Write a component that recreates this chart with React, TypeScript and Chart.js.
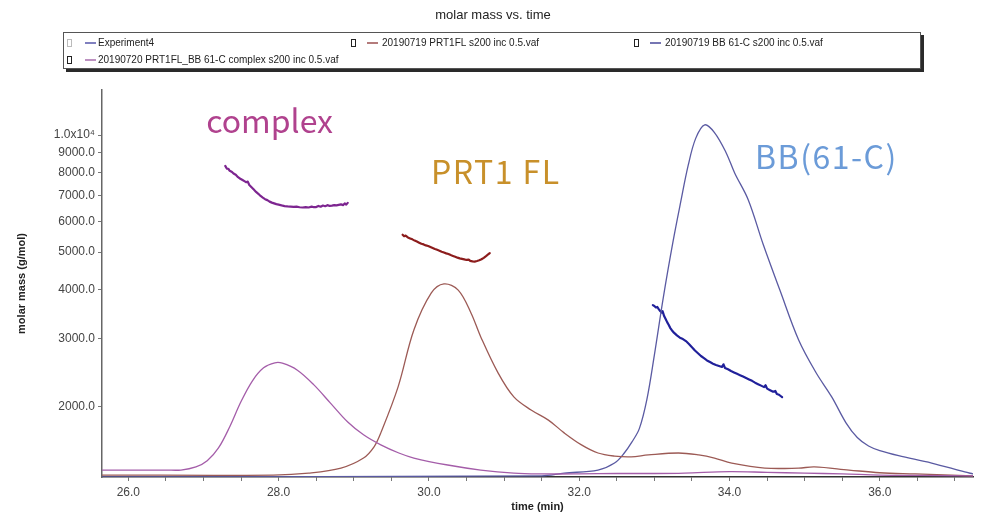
import React, { useEffect, useRef } from 'react';
import { Chart, registerables } from 'chart.js';

Chart.register(...registerables);

const chartTitle = 'molar mass vs. time';
const xTitle = 'time (min)';
const yTitle = 'molar mass (g/mol)';

const xMin = 25.65;
const xMax = 37.24;
const yMin = 1318;
const yMax = 13060;
const xTickValues = [26, 26.5, 27, 27.5, 28, 28.5, 29, 29.5, 30, 30.5, 31, 31.5, 32, 32.5, 33, 33.5, 34, 34.5, 35, 35.5, 36, 36.5, 37];
const yTickValues = [2000, 3000, 4000, 5000, 6000, 7000, 8000, 9000, 10000];

const legendLabels = [
  'Experiment4',
  '20190719 PRT1FL s200 inc 0.5.vaf',
  '20190719 BB 61-C s200 inc 0.5.vaf',
  '20190720 PRT1FL_BB 61-C complex s200 inc 0.5.vaf',
];
const legendColors = ['#3c3c9c', '#8c3434', '#2c2c8a', '#9a55a0'];

// annotation labels (time, molar mass)
const noteTexts = ['complex', 'PRT1 FL', 'BB(61-C)'];
const noteTimes = [27.88, 30.89, 35.29];
const noteMasses = [10119, 7480, 8175];
const noteColors = ['#b0428e', '#c8902a', '#6b9bd8'];

// chromatogram signals (relative, hidden axis)
const complexChromTime = [25.65, 26.5, 26.7, 26.9, 27.05, 27.2, 27.35, 27.5, 27.65, 27.8, 27.95, 28.05, 28.25, 28.47, 28.69, 28.92, 29.13, 29.36, 29.6, 29.8, 30.25, 30.69, 31.13, 31.5, 32.0, 32.5, 33.0, 33.4, 34.0, 34.5, 35.0, 35.5, 36.0, 36.5, 37.24];
const complexChromSignal = [1.8, 1.8, 1.8, 2.6, 4.2, 7.5, 13.0, 19.5, 24.8, 28.2, 29.5, 29.4, 27.6, 23.8, 19.1, 14.2, 10.9, 8.3, 6.2, 4.9, 3.1, 1.8, 1.0, 0.8, 0.8, 0.9, 0.9, 1.0, 1.4, 1.2, 1.0, 0.8, 0.5, 0.4, 0.3];

const prtChromTime = [25.65, 27.93, 28.4, 28.83, 29.13, 29.27, 29.36, 29.59, 29.8, 30.03, 30.2, 30.39, 30.56, 30.69, 30.92, 31.13, 31.36, 31.59, 31.8, 32.03, 32.25, 32.47, 32.69, 32.92, 33.32, 33.59, 33.8, 34.03, 34.47, 34.92, 35.13, 35.59, 36.0, 36.47, 37.24];
const prtChromSignal = [0.5, 0.5, 1.0, 2.3, 4.9, 7.8, 11.4, 23.3, 38.0, 47.5, 49.9, 48.3, 42.4, 36.2, 26.9, 20.7, 17.3, 14.7, 11.4, 8.3, 6.2, 5.4, 5.2, 5.7, 6.2, 5.7, 4.9, 3.6, 2.3, 2.3, 2.6, 1.8, 1.1, 0.8, 0.3];

const bbChromTime = [25.65, 31.5, 31.8, 32.25, 32.47, 32.6, 32.7, 32.8, 32.9, 33.0, 33.12, 33.25, 33.35, 33.45, 33.55, 33.67, 33.8, 33.95, 34.07, 34.25, 34.45, 34.67, 34.92, 35.15, 35.36, 35.55, 35.7, 35.85, 36.0, 36.25, 36.69, 37.13, 37.24];
const bbChromSignal = [0, 0.3, 1.0, 1.8, 3.6, 6.2, 9.0, 12.5, 20.0, 31.5, 46.5, 61.0, 71.0, 80.5, 87.5, 91.0, 89.0, 84.0, 78.5, 71.6, 60.0, 48.3, 35.4, 27.0, 20.7, 14.0, 10.2, 8.0, 6.8, 5.5, 3.6, 1.3, 0.8];

// molar mass traces
const complexMassTime = [27.29, 27.31, 27.33, 27.35, 27.38, 27.40, 27.43, 27.46, 27.49, 27.52, 27.55, 27.57, 27.59, 27.61, 27.64, 27.67, 27.70, 27.73, 27.76, 27.79, 27.82, 27.85, 27.88, 27.91, 27.94, 27.97, 28.00, 28.04, 28.08, 28.12, 28.16, 28.20, 28.24, 28.28, 28.32, 28.36, 28.40, 28.44, 28.47, 28.50, 28.53, 28.56, 28.59, 28.62, 28.65, 28.68, 28.71, 28.74, 28.77, 28.80, 28.83, 28.86, 28.88, 28.90, 28.92];
const complexMass = [8330, 8200, 8190, 8090, 8030, 7960, 7900, 7790, 7720, 7660, 7600, 7560, 7590, 7440, 7340, 7240, 7140, 7060, 6970, 6900, 6840, 6800, 6740, 6700, 6670, 6640, 6620, 6590, 6565, 6550, 6540, 6530, 6540, 6520, 6510, 6525, 6510, 6545, 6520, 6525, 6570, 6540, 6585, 6560, 6600, 6570, 6580, 6600, 6590, 6610, 6630, 6600, 6670, 6620, 6690];

const prtMassTime = [29.65, 29.67, 29.69, 29.72, 29.75, 29.78, 29.81, 29.84, 29.87, 29.90, 29.93, 29.96, 29.99, 30.02, 30.05, 30.08, 30.11, 30.14, 30.17, 30.20, 30.23, 30.26, 30.29, 30.32, 30.35, 30.38, 30.41, 30.44, 30.47, 30.50, 30.53, 30.55, 30.58, 30.61, 30.64, 30.67, 30.70, 30.73, 30.76, 30.79, 30.81];
const prtMass = [5540, 5490, 5510, 5450, 5420, 5390, 5350, 5320, 5285, 5250, 5230, 5200, 5180, 5150, 5120, 5090, 5065, 5040, 5010, 4985, 4960, 4940, 4910, 4885, 4860, 4835, 4815, 4800, 4785, 4770, 4780, 4745, 4730, 4725, 4740, 4760, 4790, 4830, 4880, 4935, 4965];

const bbMassTime = [32.98, 33.00, 33.02, 33.04, 33.06, 33.08, 33.10, 33.11, 33.13, 33.15, 33.17, 33.19, 33.21, 33.23, 33.26, 33.30, 33.34, 33.38, 33.42, 33.46, 33.50, 33.54, 33.58, 33.62, 33.66, 33.70, 33.74, 33.78, 33.82, 33.86, 33.90, 33.92, 33.94, 33.98, 34.02, 34.06, 34.10, 34.14, 34.18, 34.22, 34.26, 34.30, 34.34, 34.38, 34.42, 34.46, 34.48, 34.50, 34.54, 34.58, 34.61, 34.63, 34.66, 34.68, 34.70];
const bbMass = [3650, 3630, 3600, 3610, 3560, 3520, 3490, 3520, 3420, 3360, 3300, 3250, 3190, 3150, 3100, 3050, 3010, 2985, 2950, 2900, 2845, 2790, 2745, 2700, 2665, 2630, 2605, 2580, 2560, 2545, 2530, 2570, 2515, 2495, 2470, 2450, 2430, 2410, 2390, 2370, 2350, 2330, 2305, 2285, 2265, 2245, 2270, 2225, 2205, 2185, 2195, 2155, 2145, 2130, 2115];

const zip = (xs: number[], ys: number[]) => xs.map((x, i) => ({ x, y: ys[i] }));

const FONT = '"Liberation Sans", Arial, sans-serif';

const overlayPlugin = {
  id: 'overlay',
  afterDatasetsDraw(chart: any) {
    const ctx = chart.ctx;
    const xs = chart.scales.x;
    const ys = chart.scales.y;
    ctx.save();
    ctx.font = '32px "Noto Sans CJK KR", "Noto Sans", sans-serif';
    ctx.textAlign = 'center';
    ctx.textBaseline = 'alphabetic';
    noteTexts.forEach((t, i) => {
      ctx.fillStyle = noteColors[i];
      (ctx as any).letterSpacing = i === 0 ? '0px' : '1.5px';
      ctx.fillText(t, xs.getPixelForValue(noteTimes[i]), ys.getPixelForValue(noteMasses[i]));
    });
    (ctx as any).letterSpacing = '0px';
    ctx.restore();
  },
  afterDraw(chart: any) {
    const ctx = chart.ctx;
    ctx.save();
    // title
    ctx.font = '13px ' + FONT;
    ctx.fillStyle = '#222';
    ctx.textAlign = 'center';
    ctx.textBaseline = 'middle';
    ctx.fillText(chartTitle, 493, 15);
    // legend box with shadow
    ctx.fillStyle = '#2a2a2a';
    ctx.fillRect(66, 35, 858, 37);
    ctx.fillStyle = '#fff';
    ctx.fillRect(63, 32, 858, 37);
    ctx.strokeStyle = '#555';
    ctx.lineWidth = 1;
    ctx.strokeRect(63.5, 32.5, 857, 36);
    const slots = [
      { bx: 67, lx: 85, tx: 98, y: 43 },
      { bx: 351, lx: 367, tx: 382, y: 43 },
      { bx: 634, lx: 650, tx: 665, y: 43 },
      { bx: 67, lx: 85, tx: 98, y: 60 },
    ];
    ctx.font = '10px ' + FONT;
    ctx.textAlign = 'left';
    ctx.textBaseline = 'middle';
    legendLabels.forEach((label, i) => {
      const s = slots[i];
      ctx.strokeStyle = i === 0 ? '#bbb' : '#222';
      ctx.lineWidth = 1;
      ctx.strokeRect(s.bx + 0.5, s.y - 3.5, 4, 7);
      ctx.strokeStyle = legendColors[i];
      ctx.lineWidth = 1.3;
      ctx.beginPath();
      ctx.moveTo(s.lx, s.y);
      ctx.lineTo(s.lx + 11, s.y);
      ctx.stroke();
      ctx.fillStyle = '#222';
      ctx.fillText(label, s.tx, s.y);
    });
    ctx.restore();
  },
};

export default function App() {
  const ref = useRef<HTMLCanvasElement | null>(null);
  useEffect(() => {
    if (!ref.current) return;
    const line = (data: any[], color: string, width: number, axis: string, smooth: boolean) => ({
      data,
      yAxisID: axis,
      borderColor: color,
      backgroundColor: color,
      borderWidth: width,
      borderJoinStyle: 'round',
      borderCapStyle: 'round',
      pointRadius: 0,
      fill: false,
      tension: smooth ? 0.35 : 0,
      cubicInterpolationMode: 'default',
    });
    const chart = new Chart(ref.current, {
      type: 'line',
      data: {
        datasets: [
          line(zip(complexChromTime, complexChromSignal), '#a45da9', 1.3, 'y2', true),
          line(zip(prtChromTime, prtChromSignal), '#9c5a55', 1.3, 'y2', true),
          line(zip(bbChromTime, bbChromSignal), '#5a5aa2', 1.3, 'y2', true),
          line(zip(complexMassTime, complexMass), '#7d2590', 2.2, 'y', false),
          line(zip(prtMassTime, prtMass), '#8c1c1c', 2.2, 'y', false),
          line(zip(bbMassTime, bbMass), '#20209a', 2.2, 'y', false),
        ] as any,
      },
      options: {
        responsive: false,
        animation: false,
        devicePixelRatio: 1,
        layout: { padding: { top: 90, right: 13, left: 0, bottom: 0 } },
        plugins: {
          legend: { display: false },
          title: { display: false },
          tooltip: { enabled: false },
        },
        scales: {
          x: {
            type: 'linear',
            min: xMin,
            max: xMax,
            afterBuildTicks: (s: any) => {
              s.ticks = xTickValues.map((v) => ({ value: v }));
            },
            afterFit: (s: any) => {
              s.height = 38;
            },
            ticks: {
              autoSkip: false,
              maxRotation: 0,
              padding: 4,
              color: '#444',
              font: { family: FONT, size: 12 },
              callback: (v: any) => (Math.abs(Number(v) % 2) < 1e-9 ? Number(v).toFixed(1) : ''),
            },
            grid: { drawOnChartArea: false, tickLength: 4, color: '#777' },
            border: { color: '#333', width: 1.5 },
            title: {
              display: true,
              text: xTitle,
              color: '#222',
              font: { family: FONT, size: 11, weight: 'bold' },
              padding: { top: 0, bottom: 1 },
            },
          },
          y: {
            type: 'logarithmic',
            position: 'left',
            min: yMin,
            max: yMax,
            afterBuildTicks: (s: any) => {
              s.ticks = yTickValues.map((v) => ({ value: v }));
            },
            afterFit: (s: any) => {
              s.width = 102;
            },
            ticks: {
              autoSkip: false,
              padding: 3,
              color: '#444',
              font: { family: FONT, size: 12 },
              callback: (v: any) => (Number(v) === 10000 ? '1.0x10\u2074' : Number(v).toFixed(1)),
            },
            grid: { drawOnChartArea: false, tickLength: 4, color: '#777' },
            border: { color: '#666', width: 1.5 },
            title: {
              display: true,
              text: yTitle,
              color: '#222',
              font: { family: FONT, size: 11, weight: 'bold' },
              padding: { top: 15, bottom: 0 },
            },
          },
          y2: { type: 'linear', display: false, min: 0, max: 100 },
        },
      } as any,
      plugins: [overlayPlugin],
    });
    return () => chart.destroy();
  }, []);
  return (
    <div style={{ position: 'fixed', left: 0, top: 0, width: 986, height: 515, background: '#fff' }}>
      <canvas ref={ref} width={986} height={515} style={{ display: 'block' }} />
    </div>
  );
}
